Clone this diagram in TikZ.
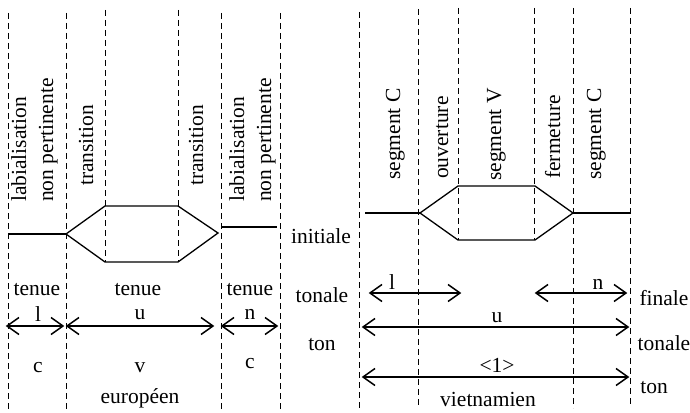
\documentclass[tikz,border=0pt]{standalone}
\usepackage{fontspec}
\setmainfont{Liberation Serif}
\newcommand\spanar[2]{%
  \draw[spanline] (#1) -- (#2);
  \draw[spanline] ([shift={(12,-8.5)}]#1) -- (#1) -- ([shift={(12,8.5)}]#1);
  \draw[spanline] ([shift={(-12,-8.5)}]#2) -- (#2) -- ([shift={(-12,8.5)}]#2);}
\begin{document}
\begin{tikzpicture}[x=1pt,y=-1pt,
  font=\fontsize{21.5}{26}\selectfont,
  guide/.style={dash pattern=on 6pt off 4pt, line width=1pt},
  contour/.style={line width=1.3pt},
  spanline/.style={line width=1.5pt, line join=miter},
  vlabel/.style={rotate=90, anchor=base west, inner sep=0pt},
  lab/.style={anchor=base, inner sep=0pt}]
\useasboundingbox (0,0) rectangle (690,412);

% ---------- vertical guides ----------
\foreach \n/\x/\a/\b in {L1/8/13/410, L2/66/13/410, L3/105/10/262, L4/178/10/262, L5/221/13/410, L6/280/13/410,
                         R1/359/12/410, R2/418/9/408, R3/458/8/240, R4/534/8/240, R5/573/8/408, R6/630/8/405}{
  \coordinate (\n t) at (\x,\a);
  \coordinate (\n b) at (\x,\b);
  \draw[guide] (\n t) -- (\n b);
}

% ---------- left contour (européen) ----------
\coordinate (la) at (8,234);
\coordinate (lb) at (66,234);
\coordinate (lc) at (105,206);
\coordinate (ld) at (178,206);
\coordinate (le) at (218,233);
\coordinate (lf) at (178,262);
\coordinate (lg) at (105,262);
\coordinate (lh) at (222,227);
\coordinate (li) at (277,227);
\draw[contour] (la) -- (lb);
\draw[contour] (lb) -- (lc) -- (ld) -- (le) -- (lf) -- (lg) -- cycle;
\draw[contour] (lh) -- (li);

% ---------- right contour (vietnamien) ----------
\coordinate (ra) at (365,213);
\coordinate (rb) at (420,213);
\coordinate (rc) at (458,186);
\coordinate (rd) at (535,186);
\coordinate (re) at (573,213);
\coordinate (rf) at (535,240);
\coordinate (rg) at (458,240);
\coordinate (rh) at (630,213);
\draw[contour] (ra) -- (rb);
\draw[contour] (rb) -- (rc) -- (rd) -- (re) -- (rf) -- (rg) -- cycle;
\draw[contour] (re) -- (rh);

% ---------- rotated labels ----------
\node[vlabel] (t1) at (26,202) {labialisation};
\node[vlabel] (t2) at (53,202) {non pertinente};
\node[vlabel] (t3) at (93,186) {transition};
\node[vlabel] (t4) at (203,186) {transition};
\node[vlabel] (t5) at (244,202) {labialisation};
\node[vlabel] (t6) at (271,202) {non pertinente};
\node[vlabel] (s1) at (400,180) {segment C};
\node[vlabel] (s2) at (448,179) {ouverture};
\node[vlabel] (s3) at (501,181) {segment V};
\node[vlabel] (s4) at (560,179) {fermeture};
\node[vlabel] (s5) at (601,180) {segment C};

% ---------- left lower labels ----------
\node[lab] (te1) at (37,295) {tenue};
\node[lab] (te2) at (138,295) {tenue};
\node[lab] (te3) at (250,295) {tenue};
\coordinate (a1s) at (7,326);  \coordinate (a1e) at (63,326);
\coordinate (a2s) at (67,326); \coordinate (a2e) at (213,326);
\coordinate (a3s) at (222,326);\coordinate (a3e) at (277,326);
\spanar{a1s}{a1e}
\spanar{a2s}{a2e}
\spanar{a3s}{a3e}
\node[lab] (l1) at (38,321) {l};
\node[lab] (u1) at (140,319) {u};
\node[lab] (n1) at (250,319) {n};
\node[lab] (c1) at (38,372) {c};
\node[lab] (v1) at (140,372) {v};
\node[lab] (c2) at (250,368) {c};
\node[lab] (eu) at (140,403) {européen};

% ---------- middle labels ----------
\node[lab] (ini) at (321,243) {initiale};
\node[lab] (ton1) at (322,302) {tonale};
\node[lab] (ton2) at (322,350) {ton};

% ---------- right lower labels ----------
\coordinate (b1s) at (370,293); \coordinate (b1e) at (460,293);
\coordinate (b2s) at (536,293); \coordinate (b2e) at (626,293);
\coordinate (b3s) at (363,327); \coordinate (b3e) at (628,327);
\coordinate (b4s) at (363,377); \coordinate (b4e) at (628,377);
\spanar{b1s}{b1e}
\spanar{b2s}{b2e}
\spanar{b3s}{b3e}
\spanar{b4s}{b4e}
\node[lab] (l2) at (392,289) {l};
\node[lab] (n2) at (598,289) {n};
\node[lab] (u2) at (497,322) {u};
\node[lab] (one) at (497,372) {<1>};
\node[lab] (fin) at (664,305) {finale};
\node[lab] (ton3) at (664,350) {tonale};
\node[lab] (ton4) at (654,393) {ton};
\node[lab] (vi) at (488,406) {vietnamien};
\end{tikzpicture}
\end{document}
